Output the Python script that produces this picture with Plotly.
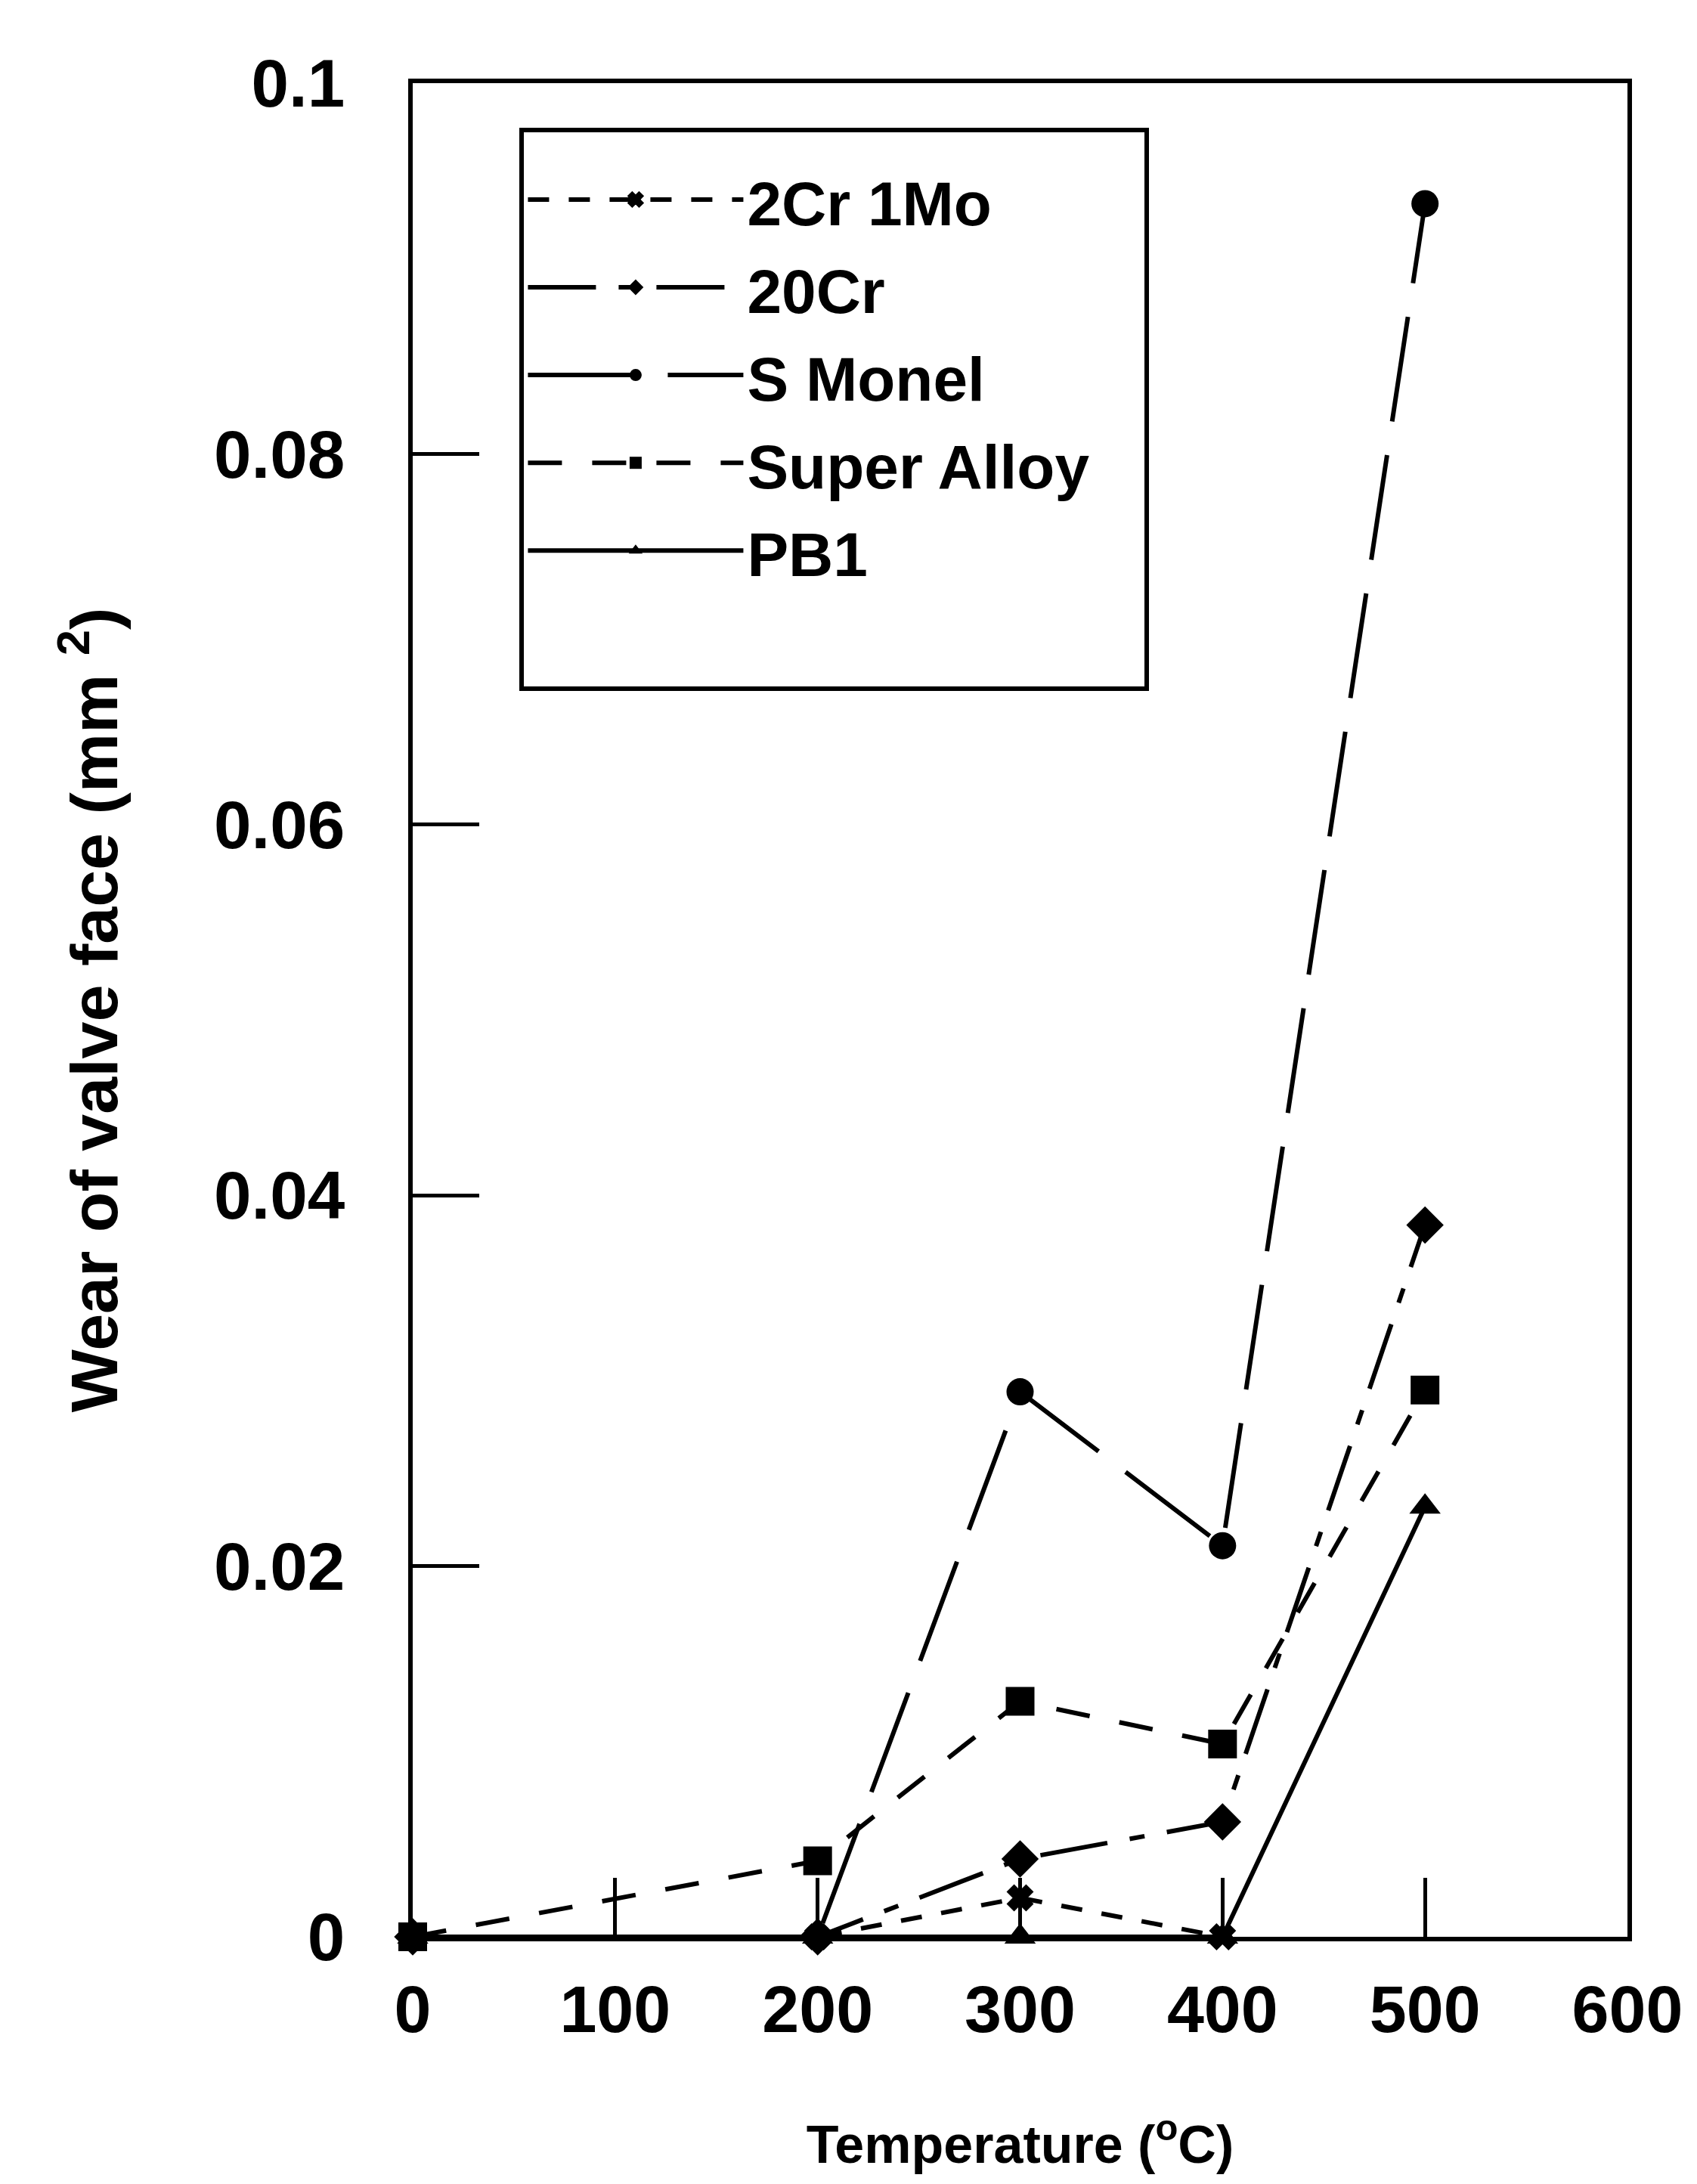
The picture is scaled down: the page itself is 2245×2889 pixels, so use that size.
import plotly.graph_objects as go

temps = [0, 200, 300, 400, 500]
cr2mo1 = [0, 0, 0.0021, 0, None]
cr20 = [0, 0, 0.0042, 0.0062, 0.0384]
s_monel = [0, 0, 0.0294, 0.0211, 0.0935]
super_alloy = [0, 0.0041, 0.0127, 0.0104, 0.0295]
pb1 = [0, 0, 0, 0, 0.0232]

x_ticks = [0, 100, 200, 300, 400, 500, 600]
y_ticks = [0, 0.02, 0.04, 0.06, 0.08, 0.1]
y_tick_text = ["0", "0.02", "0.04", "0.06", "0.08", "0.1"]

FONT = "Arial, Liberation Sans, sans-serif"
PAD = "\u00a0\u00a0\u00a0"

series = [
    ("2Cr 1Mo", cr2mo1, "x", 28, "28px,26px"),
    ("20Cr", cr20, "diamond", 38, "90px,30px,20px,30px"),
    ("S Monel", s_monel, "circle", 36, "140px,45px"),
    ("Super Alloy", super_alloy, "square", 38, "45px,40px"),
    ("PB1", pb1, "triangle-up", 36, "solid"),
]

fig = go.Figure()
for name, vals, sym, size, dash in series:
    xs = [t for t, v in zip(temps, vals) if v is not None]
    ys = [v for v in vals if v is not None]
    fig.add_trace(go.Scatter(
        x=xs, y=ys,
        name="<span style='font-size:82px'>" + name + PAD + "</span>",
        mode="lines+markers",
        line=dict(color="black", width=6, dash=dash),
        marker=dict(symbol=sym, size=size, color="black",
                    line=dict(color="black", width=3 if sym == "x" else 0)),
        cliponaxis=False,
    ))

# empty spacer entry so the legend box keeps its blank lower band
fig.add_trace(go.Scatter(
    x=[None], y=[None], name="\u00a0", mode="lines",
    line=dict(color="rgba(0,0,0,0)", width=0), hoverinfo="skip",
))

fig.update_layout(
    width=2245, height=2889,
    paper_bgcolor="white", plot_bgcolor="white",
    margin=dict(l=538, r=100, t=102, b=335),
    font=dict(family=FONT, size=68, color="black", weight="bold"),
    legend=dict(
        x=0.088, y=0.976, xanchor="left", yanchor="top",
        bordercolor="black", borderwidth=6, bgcolor="white",
        font=dict(family=FONT, size=87, color="black", weight="bold"),
        title=dict(text="\u00a0", font=dict(size=20)),
        itemwidth=285, tracegroupgap=0,
    ),
    showlegend=True,
)

fig.update_xaxes(
    range=[0, 600], tickvals=x_ticks, ticktext=[str(v) for v in x_ticks],
    ticks="inside", ticklen=78, tickwidth=5, tickcolor="black",
    showline=True, linewidth=6, linecolor="black", mirror=True,
    showgrid=False, zeroline=False, ticklabelstandoff=14,
    tickfont=dict(family=FONT, size=88, color="black", weight="bold"),
    title=dict(text="Temperature (<sup>o</sup>C)", standoff=108,
               font=dict(family=FONT, size=70, color="black", weight="bold")),
)
fig.update_yaxes(
    range=[0, 0.1], tickvals=y_ticks, ticktext=y_tick_text,
    ticks="inside", ticklen=88, tickwidth=5, tickcolor="black",
    showline=True, linewidth=6, linecolor="black", mirror=True,
    showgrid=False, zeroline=False, ticklabelstandoff=66,
    tickfont=dict(family=FONT, size=89, color="black", weight="bold"),
    title=dict(text="Wear of valve face (mm <sup>2</sup>)", standoff=100,
               font=dict(family=FONT, size=88, color="black", weight="bold")),
)

fig.write_html("out.html")
